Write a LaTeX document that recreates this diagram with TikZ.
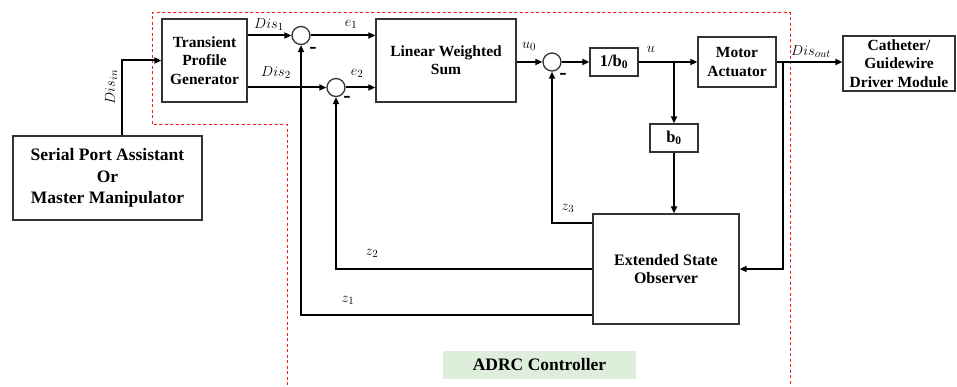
\documentclass[tikz,border=0pt]{standalone}
\usepackage{fontspec}
\setmainfont{Liberation Serif}
\usepackage{xcolor}
\usetikzlibrary{arrows.meta,calc}
\definecolor{adrcgreen}{RGB}{221,238,218}

\begin{document}
\begin{tikzpicture}[x=1pt,y=-1pt,
  block/.style={draw=black!80,line width=1.3pt,fill=white,inner sep=0pt,align=center,
    font=\bfseries\fontsize{15.5}{18.3}\selectfont},
  sumnode/.style={draw=black!80,line width=1.3pt,circle,fill=white,inner sep=0pt,minimum size=18pt},
  sig/.style={line width=2pt,-{Triangle[length=7pt,width=6pt]}},
  lbl/.style={font=\fontsize{15}{16}\selectfont,inner sep=0pt},
  minus/.style={font=\bfseries\fontsize{22}{22}\selectfont,inner sep=0pt}]
  % ADRC loop: controller boundary, blocks, feedback paths.

  \useasboundingbox (0,0) rectangle (957,387);

  \draw[red!90,line width=1pt,dash pattern=on 3pt off 2.5pt]
    (287,385) -- (287,125) -- (152,125) -- (152,13) -- (790,13) -- (790,385);

  \node[fill=adrcgreen,minimum width=193pt,minimum height=28pt,inner sep=0pt,
    font=\bfseries\fontsize{17.5}{20}\selectfont] (adrc) at (539.5,365) {ADRC Controller};

  \node[block,minimum width=189pt,minimum height=84pt,
    font=\bfseries\fontsize{17.5}{21.7}\selectfont] (serial) at (107.5,178)
    {Serial Port Assistant\\Or\\Master Manipulator};
  \node[block,minimum width=85pt,minimum height=83pt]  (tpg)   at (204.5,60.5) {Transient\\Profile\\Generator};
  \node[block,minimum width=140pt,minimum height=83pt] (lws)   at (446,60.5)   {Linear Weighted\\Sum};
  \node[block,minimum width=48pt,minimum height=28pt,
    font=\bfseries\fontsize{16.5}{18}\selectfont]      (inv)   at (614,62)     {1/b\textsubscript{0}};
  \node[block,minimum width=48pt,minimum height=28pt,
    font=\bfseries\fontsize{16.5}{18}\selectfont]      (bzero) at (674,138)    {b\textsubscript{0}};
  \node[block,minimum width=78pt,minimum height=50pt]  (motor) at (737,62)     {Motor\\Actuator};
  \node[block,minimum width=112pt,minimum height=55pt] (cath)  at (899,63.5)   {Catheter/\\Guidewire\\Driver Module};
  \node[block,minimum width=146pt,minimum height=110pt,
    font=\bfseries\fontsize{16}{18.3}\selectfont]      (eso)   at (666,269)    {Extended State\\Observer};

  \node[sumnode] (sumA) at (301,35.5) {};
  \node[sumnode] (sumB) at (336,87.5) {};
  \node[sumnode] (sumC) at (552,62)   {};

  \draw[sig] ([xshift=14.5pt]serial.north) |- (tpg.west);
  \draw[sig] (tpg.east |- sumA) -- (sumA.west);
  \draw[sig] (tpg.east |- sumB) -- (sumB.west);
  \draw[sig] (sumA.east) -- (lws.west |- sumA);
  \draw[sig] (sumB.east) -- (lws.west |- sumB);
  \draw[sig] (lws.east |- sumC) -- (sumC.west);
  \draw[sig] (sumC.east) -- (inv.west);
  \draw[sig] (inv.east) -- (motor.west);

  \coordinate (ubranch) at (bzero.north |- inv.east);
  \draw[sig] (ubranch) -- (bzero.north);
  \draw[sig] (bzero.south) -- (bzero.south |- eso.north);

  \draw[sig] (motor.east) -- (cath.west |- motor.east);
  \coordinate (obranch) at ([xshift=6pt]motor.east);
  \draw[sig] (obranch) |- (eso.east);

  \draw[sig] ([yshift=-10pt]eso.north west) -| (sumC.south);
  \draw[sig] (eso.west) -| (sumB.south);
  \draw[sig] ([yshift=10pt]eso.south west) -| (sumA.south);

  \node[lbl,rotate=90] (disin)  at (111,87)    {$Dis_{in}$};
  \node[lbl]           (disA)   at (269,24.5)  {$Dis_1$};
  \node[lbl]           (disB)   at (276,72.5)  {$Dis_2$};
  \node[lbl]           (errA)   at (351,24)    {$e_1$};
  \node[lbl]           (errB)   at (357,73)    {$e_2$};
  \node[lbl]           (uzero)  at (529,46)    {$u_0$};
  \node[lbl]           (uctl)   at (651,49)    {$u$};
  \node[lbl]           (disout) at (811,52)    {$Dis_{out}$};
  \node[lbl]           (zthree) at (568,208)   {$z_3$};
  \node[lbl]           (ztwo)   at (372,253)   {$z_2$};
  \node[lbl]           (zone)   at (348,300)   {$z_1$};

  \node[minus] (mA) at (313,50)  {-};
  \node[minus] (mB) at (347,99)  {-};
  \node[minus] (mC) at (563,76)  {-};
\end{tikzpicture}
\end{document}
